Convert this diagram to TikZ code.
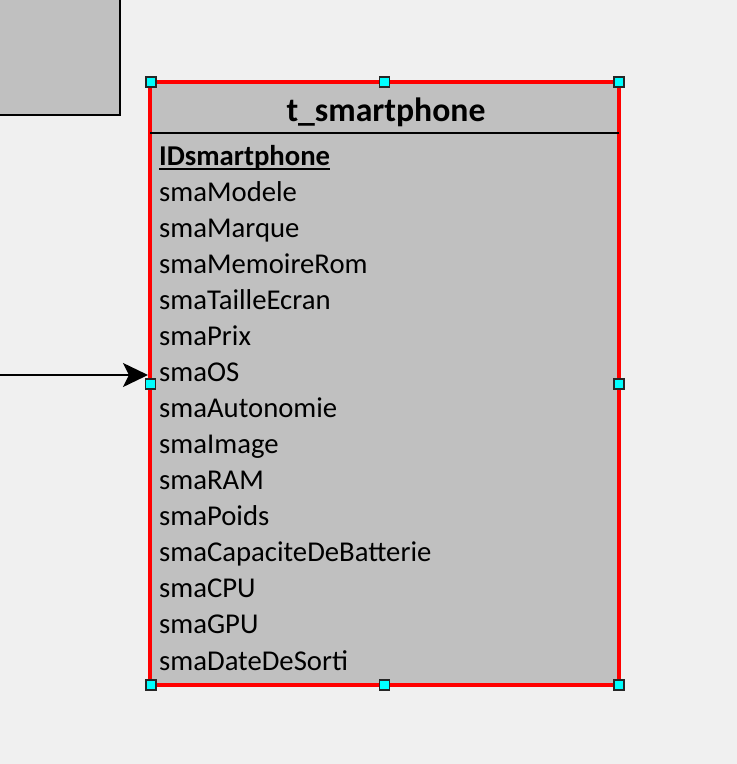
\documentclass[tikz,border=0pt]{standalone}
\usepackage{fontspec}
\setmainfont{Carlito}
\usetikzlibrary{arrows.meta}
\definecolor{bgc}{HTML}{F0F0F0}
\definecolor{boxgray}{HTML}{C0C0C0}
\definecolor{hcyan}{HTML}{00FFFF}
\tikzset{
  attr/.style={anchor=base west, inner sep=0pt, font=\fontsize{28.7}{34}\selectfont},
  ttl/.style={anchor=base, inner sep=0pt, font=\fontsize{33.7}{40}\selectfont\bfseries},
  handle/.style={rectangle, minimum size=10pt, inner sep=0pt, fill=hcyan, draw=black!85, line width=1.5pt},
  tablebox/.style={rectangle, draw=red, line width=4pt, fill=boxgray, minimum width=469pt, minimum height=603pt, inner sep=0pt},
  otherbox/.style={rectangle, draw=black, line width=2pt, fill=boxgray, minimum width=140pt, minimum height=135pt, inner sep=0pt},
  link/.style={line width=2pt, -{Stealth[length=25pt,width=24pt,inset=6pt]}}
}
\begin{document}
\begin{tikzpicture}[x=1pt,y=-1pt]
\fill[bgc] (0,0) rectangle (737,764);
\useasboundingbox (0,0) rectangle (737,764);
% other table (partially visible)
\node[otherbox] (other) at (50,47.5) {};
% main table
\node[tablebox] (tbl) at (384.5,383.5) {};
\node[ttl] (title) at (386,121) {t\_smartphone};
\coordinate (sepL) at (150,133);
\coordinate (sepR) at (619,133);
\draw[line width=2pt] (sepL) -- (sepR);
\node[attr, font=\fontsize{28.7}{34}\selectfont\bfseries] (a0) at (159,165) {IDsmartphone};
\draw[line width=1.6pt] ([yshift=-4pt]a0.base west) -- ([yshift=-4pt]a0.base east);
\node[attr] (a1) at (159,201.1) {smaModele};
\node[attr] (a2) at (159,237.1) {smaMarque};
\node[attr] (a3) at (159,273.2) {smaMemoireRom};
\node[attr] (a4) at (159,309.3) {smaTailleEcran};
\node[attr] (a5) at (159,345.3) {smaPrix};
\node[attr] (a6) at (159,381.4) {smaOS};
\node[attr] (a7) at (159,417.5) {smaAutonomie};
\node[attr] (a8) at (159,453.6) {smaImage};
\node[attr] (a9) at (159,489.6) {smaRAM};
\node[attr] (a10) at (159,525.7) {smaPoids};
\node[attr] (a11) at (159,561.8) {smaCapaciteDeBatterie};
\node[attr] (a12) at (159,597.8) {smaCPU};
\node[attr] (a13) at (159,633.9) {smaGPU};
\node[attr] (a14) at (159,670.0) {smaDateDeSorti};
% connector
\coordinate (src) at (0,375);
\draw[link] (src) -- (tbl.west |- src);
% selection handles
\node[handle] (h1) at (151,82) {};
\node[handle] (h2) at (384.5,82) {};
\node[handle] (h3) at (619,82) {};
\node[handle] (h4) at (150.5,384) {};
\node[handle] (h5) at (619,384) {};
\node[handle] (h6) at (151,685) {};
\node[handle] (h7) at (384.5,685) {};
\node[handle] (h8) at (619,685) {};
\end{tikzpicture}
\end{document}
